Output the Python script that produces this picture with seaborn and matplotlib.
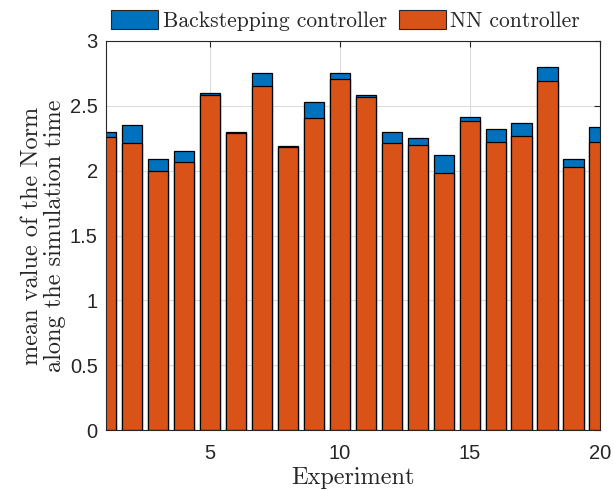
import numpy as np
import matplotlib.pyplot as plt
import seaborn as sns
from matplotlib.patches import Patch

# values
experiment = list(range(1, 21))
backstepping = [2.30, 2.35, 2.09, 2.15, 2.60, 2.30, 2.75, 2.19, 2.53, 2.75,
                2.58, 2.30, 2.25, 2.12, 2.415, 2.32, 2.37, 2.80, 2.09, 2.34]
nn = [2.26, 2.21, 2.00, 2.07, 2.585, 2.29, 2.65, 2.18, 2.41, 2.71,
      2.565, 2.21, 2.20, 1.98, 2.38, 2.225, 2.27, 2.69, 2.03, 2.225]

blue = '#0072BD'
orange = '#D95319'
dark = '#262626'

sns.set_style('white')
plt.rcParams['font.family'] = ['Liberation Sans', 'DejaVu Sans']

fig = plt.figure(figsize=(6.14, 4.91), dpi=100)
ax = fig.add_axes([0.1726, 0.124, 0.8044, 0.7925])

sns.barplot(x=experiment, y=backstepping, native_scale=True, color=blue,
            width=0.8, edgecolor='black', linewidth=0.9, saturation=1, ax=ax)
sns.barplot(x=experiment, y=nn, native_scale=True, color=orange,
            width=0.8, edgecolor='black', linewidth=0.9, saturation=1, ax=ax)

ax.set_xlim(1, 20)
ax.set_ylim(0, 3)
ax.set_xticks([5, 10, 15, 20])
ax.set_yticks(np.arange(0, 3.01, 0.5))
ax.set_yticklabels(['0', '0.5', '1', '1.5', '2', '2.5', '3'])
ax.grid(True, color='#dcdcdc', linewidth=0.8)
ax.set_axisbelow(True)
ax.tick_params(direction='in', top=True, right=True, length=4,
               labelsize=14.5, colors=dark, width=0.8)
ax.tick_params(axis='x', pad=10)
ax.tick_params(axis='y', pad=6)
for s in ax.spines.values():
    s.set_color(dark)
    s.set_linewidth(0.8)
    s.set_visible(True)

ax.set_xlabel('Experiment', family='cmr10', fontsize=17.5, color=dark, labelpad=3)
ax.set_ylabel('mean value of the Norm\nalong the simulation time',
              family='cmr10', fontsize=17.5, color=dark, labelpad=3,
              linespacing=1.05)

handles = [Patch(facecolor=blue, edgecolor=dark, linewidth=0.8),
           Patch(facecolor=orange, edgecolor=dark, linewidth=0.8)]
fig.legend(handles, ['Backstepping controller', 'NN controller'],
           loc='center', bbox_to_anchor=(0.5627, 0.958), ncol=2, frameon=False,
           prop={'family': 'cmr10', 'size': 15.5}, handlelength=2.18,
           handleheight=0.93, handletextpad=0.2, columnspacing=0.55,
           borderaxespad=0, borderpad=0)

fig.savefig('out.png', dpi=100)
